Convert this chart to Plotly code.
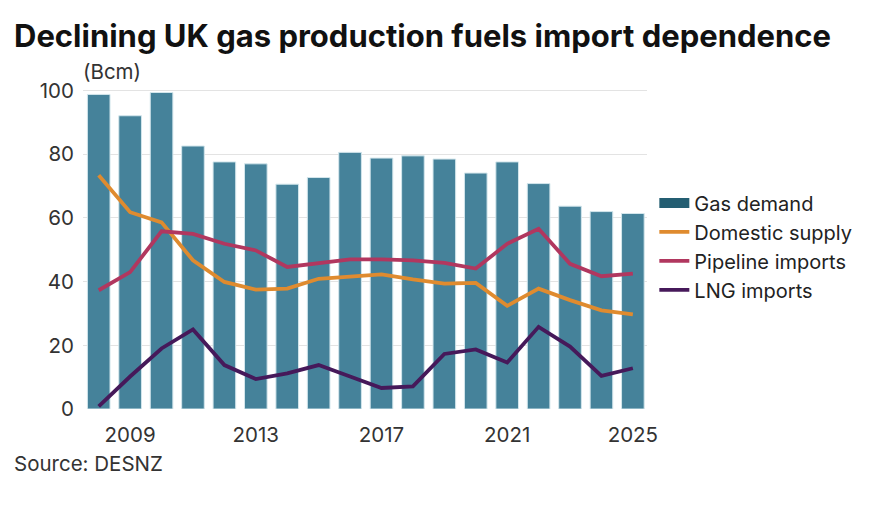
import plotly.graph_objects as go

years = list(range(2008, 2026))
gas_demand = [98.8, 92.1, 99.4, 82.6, 77.6, 77.0, 70.6, 72.7, 80.6, 78.8, 79.5, 78.5, 74.1, 77.6, 70.8, 63.7, 62.0, 61.4]
domestic_supply = [73.4, 61.8, 58.6, 46.7, 39.9, 37.5, 37.8, 40.9, 41.6, 42.3, 40.7, 39.4, 39.6, 32.4, 37.8, 34.2, 31.0, 29.7]
pipeline_imports = [37.3, 43.0, 55.8, 55.0, 51.9, 49.8, 44.6, 45.8, 47.0, 47.0, 46.7, 45.9, 44.1, 51.9, 56.6, 45.6, 41.7, 42.5]
lng_imports = [0.8, 10.2, 19.0, 25.0, 13.8, 9.4, 11.2, 13.8, 10.2, 6.6, 7.1, 17.3, 18.7, 14.6, 25.8, 19.6, 10.4, 12.8]
tick_years = [2009, 2013, 2017, 2021, 2025]
y_ticks = [0, 20, 40, 60, 80, 100]

font_main = "Inter, Roboto, sans-serif"
PW, PH = 564, 320

fig = go.Figure()
fig.add_trace(go.Bar(
    x=years, y=gas_demand, name="Gas demand", showlegend=False,
    marker=dict(color="#45829a", line=dict(color="#d3e6ec", width=1)),
    width=0.72,
))
# legend proxy for the bars (wide swatch as in the reference)
fig.add_trace(go.Scatter(x=[None], y=[None], name="Gas demand", mode="lines",
                         line=dict(color="#245e72", width=13)))
fig.add_trace(go.Scatter(x=years, y=domestic_supply, name="Domestic supply", mode="lines",
                         line=dict(color="#df8b2f", width=3.8)))
fig.add_trace(go.Scatter(x=years, y=pipeline_imports, name="Pipeline imports", mode="lines",
                         line=dict(color="#b1375f", width=3.8)))
fig.add_trace(go.Scatter(x=years, y=lng_imports, name="LNG imports", mode="lines",
                         line=dict(color="#46195a", width=3.8)))

fig.update_layout(
    width=890, height=505,
    margin=dict(l=83, r=243, t=89, b=96),
    paper_bgcolor="white", plot_bgcolor="white",
    font=dict(family=font_main, color="#222", size=20),
    showlegend=True,
    legend=dict(x=1.013, y=0.705, xanchor="left", yanchor="top",
                font=dict(size=20, color="#222", family=font_main), tracegroupgap=0,
                itemwidth=30, bgcolor="rgba(0,0,0,0)"),
    xaxis=dict(range=[2007.5, 2025.45], tickmode="array", tickvals=tick_years,
               ticktext=[str(t) for t in tick_years], showgrid=False, zeroline=False,
               showline=False, ticks="", tickfont=dict(size=20.5, color="#333"),
               ticklabelstandoff=11),
    yaxis=dict(range=[0, 100.5], tickmode="array", tickvals=y_ticks, showgrid=True,
               gridcolor="#e3e3e3", gridwidth=1, zeroline=False, showline=False,
               ticks="", tickfont=dict(size=20.5, color="#333"), ticklabelstandoff=8),
    annotations=[
        dict(text="<b>Declining UK gas production fuels import dependence</b>",
             xref="paper", yref="paper", x=(12 - 83) / PW, y=1 + (89 - 35) / PH,
             xanchor="left", yanchor="middle", showarrow=False,
             font=dict(family=font_main, size=31, color="#111")),
        dict(text="(Bcm)", xref="paper", yref="paper", x=-0.003, y=1 + (89 - 71) / PH,
             xanchor="left", yanchor="middle", showarrow=False,
             font=dict(size=20.5, color="#333")),
        dict(text="Source: DESNZ", xref="paper", yref="paper", x=(12 - 83) / PW,
             y=-(463 - 409) / PH, xanchor="left", yanchor="middle", showarrow=False,
             font=dict(size=20.5, color="#333")),
    ],
)

fig.write_html("out.html")
